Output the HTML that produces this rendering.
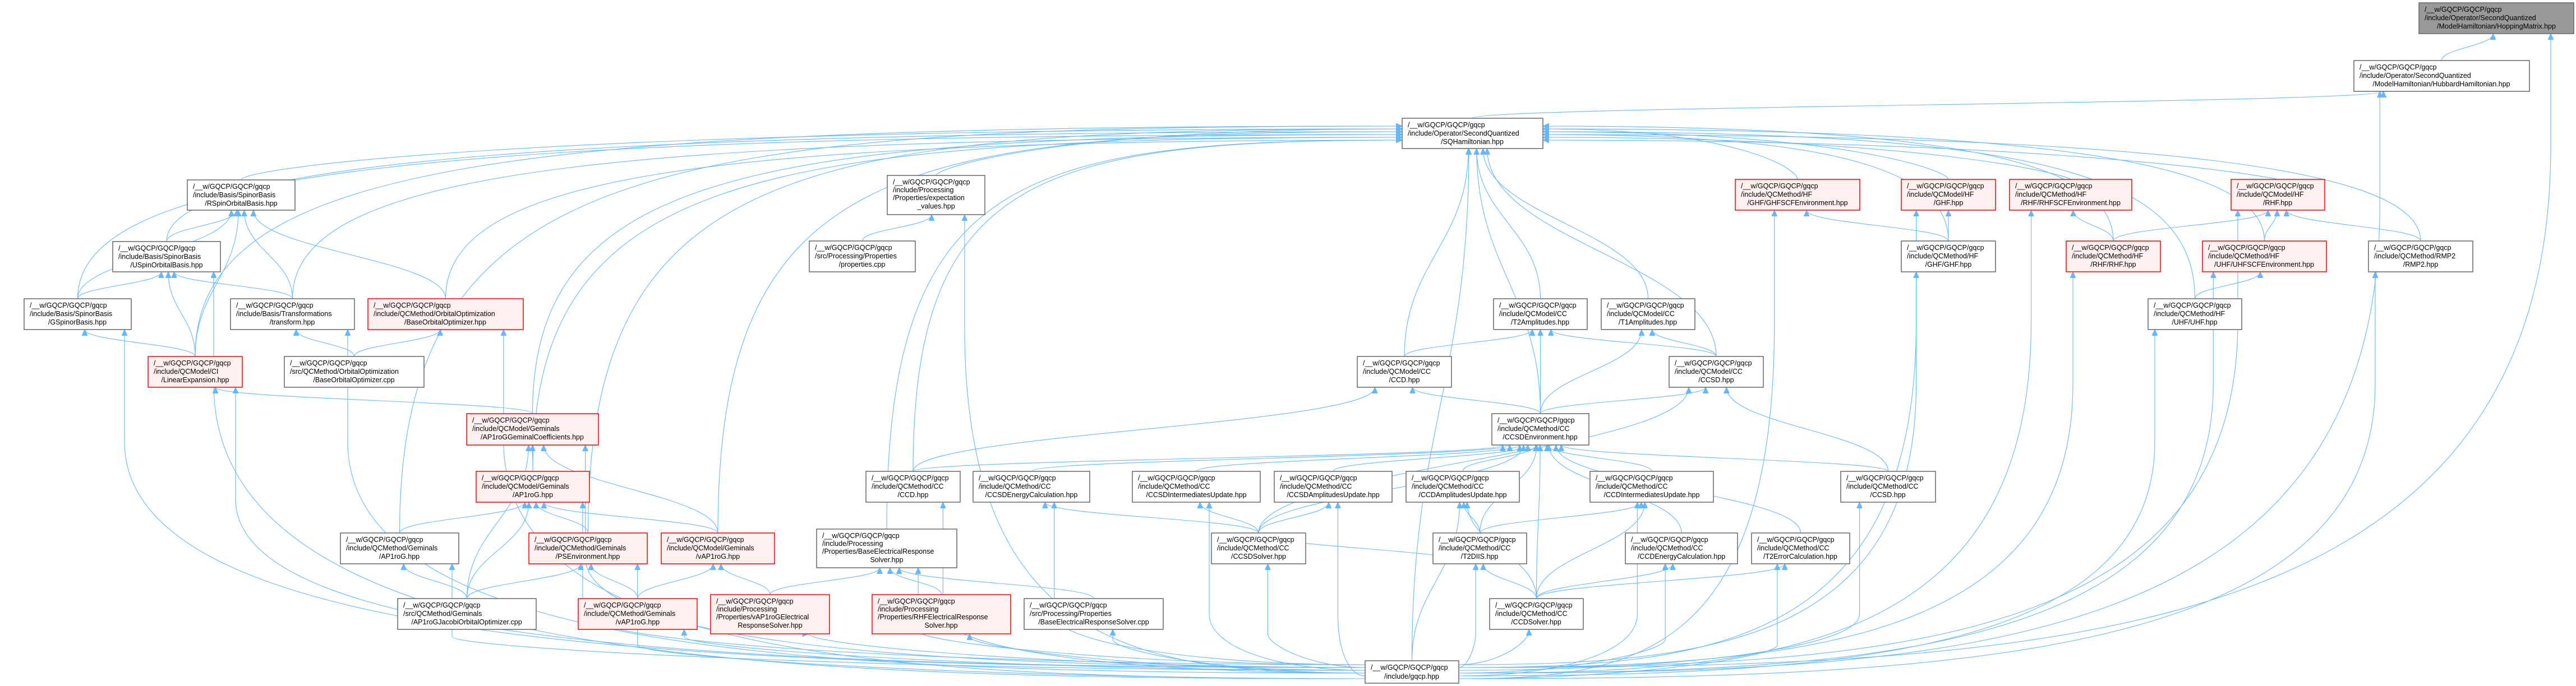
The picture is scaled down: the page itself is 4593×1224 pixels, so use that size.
<!DOCTYPE html>
<html><head><meta charset="utf-8">
<style>
html,body{margin:0;padding:0;background:#fff;}
svg{display:block;}
text{font-family:"Liberation Sans",Arial,sans-serif;font-size:12.5px;fill:#000;}
.n{fill:#fff;stroke:#666;stroke-width:1.5;}
.r{fill:#fff0f0;stroke:#f00;stroke-width:1.5;}
.g{fill:#999;stroke:#666;stroke-width:1.5;}
.m{text-anchor:middle;}
#edges path{fill:none;stroke:#63b8ff;stroke-width:1.1;}
</style></head>
<body>
<svg id="svg" width="4593" height="1224" viewBox="0 0 4593 1224" xmlns="http://www.w3.org/2000/svg">
<defs><marker id="ah" markerUnits="userSpaceOnUse" markerWidth="12" markerHeight="10" refX="11" refY="5" orient="auto"><path d="M0,0 L11,5 L0,10 z" fill="#63b8ff" stroke="#63b8ff"/></marker></defs>
<g id="edges"></g>
<g id="nodes">
<rect class="g" x="4313" y="5" width="276" height="55"/><text x="4323" y="21">/__w/GQCP/GQCP/gqcp</text><text x="4323" y="36">/include/Operator/SecondQuantized</text><text class="m" x="4451" y="51">/ModelHamiltonian/HoppingMatrix.hpp</text>
<rect class="n" x="4197" y="108" width="313" height="55"/><text x="4207" y="124">/__w/GQCP/GQCP/gqcp</text><text x="4207" y="139">/include/Operator/SecondQuantized</text><text class="m" x="4353" y="154">/ModelHamiltonian/HubbardHamiltonian.hpp</text>
<rect class="n" x="2500" y="211" width="251" height="54"/><text x="2510" y="227">/__w/GQCP/GQCP/gqcp</text><text x="2510" y="242">/include/Operator/SecondQuantized</text><text class="m" x="2625" y="257">/SQHamiltonian.hpp</text>
<rect class="n" x="334" y="321" width="192" height="54"/><text x="344" y="337">/__w/GQCP/GQCP/gqcp</text><text x="344" y="352">/include/Basis/SpinorBasis</text><text class="m" x="430" y="367">/RSpinOrbitalBasis.hpp</text>
<rect class="n" x="1582" y="313" width="174" height="70"/><text x="1592" y="329">/__w/GQCP/GQCP/gqcp</text><text x="1592" y="343">/include/Processing</text><text x="1592" y="357">/Properties/expectation</text><text class="m" x="1669" y="372">_values.hpp</text>
<rect class="r" x="3094" y="320" width="222" height="55"/><text x="3104" y="336">/__w/GQCP/GQCP/gqcp</text><text x="3104" y="351">/include/QCMethod/HF</text><text class="m" x="3205" y="366">/GHF/GHFSCFEnvironment.hpp</text>
<rect class="r" x="3390" y="320" width="168" height="55"/><text x="3400" y="336">/__w/GQCP/GQCP/gqcp</text><text x="3400" y="351">/include/QCModel/HF</text><text class="m" x="3474" y="366">/GHF.hpp</text>
<rect class="r" x="3583" y="320" width="218" height="55"/><text x="3593" y="336">/__w/GQCP/GQCP/gqcp</text><text x="3593" y="351">/include/QCMethod/HF</text><text class="m" x="3692" y="366">/RHF/RHFSCFEnvironment.hpp</text>
<rect class="r" x="3978" y="320" width="167" height="55"/><text x="3988" y="336">/__w/GQCP/GQCP/gqcp</text><text x="3988" y="351">/include/QCModel/HF</text><text class="m" x="4061" y="366">/RHF.hpp</text>
<rect class="n" x="201" y="431" width="192" height="54"/><text x="211" y="447">/__w/GQCP/GQCP/gqcp</text><text x="211" y="462">/include/Basis/SpinorBasis</text><text class="m" x="297" y="477">/USpinOrbitalBasis.hpp</text>
<rect class="n" x="1443" y="430" width="189" height="55"/><text x="1453" y="446">/__w/GQCP/GQCP/gqcp</text><text x="1453" y="461">/src/Processing/Properties</text><text class="m" x="1537" y="476">/properties.cpp</text>
<rect class="n" x="3390" y="430" width="168" height="55"/><text x="3400" y="446">/__w/GQCP/GQCP/gqcp</text><text x="3400" y="461">/include/QCMethod/HF</text><text class="m" x="3474" y="476">/GHF/GHF.hpp</text>
<rect class="r" x="3684" y="430" width="168" height="55"/><text x="3694" y="446">/__w/GQCP/GQCP/gqcp</text><text x="3694" y="461">/include/QCMethod/HF</text><text class="m" x="3768" y="476">/RHF/RHF.hpp</text>
<rect class="r" x="3927" y="430" width="221" height="55"/><text x="3937" y="446">/__w/GQCP/GQCP/gqcp</text><text x="3937" y="461">/include/QCMethod/HF</text><text class="m" x="4037" y="476">/UHF/UHFSCFEnvironment.hpp</text>
<rect class="n" x="4223" y="430" width="186" height="55"/><text x="4233" y="446">/__w/GQCP/GQCP/gqcp</text><text x="4233" y="461">/include/QCMethod/RMP2</text><text class="m" x="4316" y="476">/RMP2.hpp</text>
<rect class="n" x="43" y="533" width="191" height="55"/><text x="53" y="549">/__w/GQCP/GQCP/gqcp</text><text x="53" y="564">/include/Basis/SpinorBasis</text><text class="m" x="138" y="579">/GSpinorBasis.hpp</text>
<rect class="n" x="411" y="533" width="221" height="55"/><text x="421" y="549">/__w/GQCP/GQCP/gqcp</text><text x="421" y="564">/include/Basis/Transformations</text><text class="m" x="521" y="579">/transform.hpp</text>
<rect class="r" x="656" y="533" width="277" height="55"/><text x="666" y="549">/__w/GQCP/GQCP/gqcp</text><text x="666" y="564">/include/QCMethod/OrbitalOptimization</text><text class="m" x="794" y="579">/BaseOrbitalOptimizer.hpp</text>
<rect class="n" x="2663" y="533" width="167" height="55"/><text x="2673" y="549">/__w/GQCP/GQCP/gqcp</text><text x="2673" y="564">/include/QCModel/CC</text><text class="m" x="2746" y="579">/T2Amplitudes.hpp</text>
<rect class="n" x="2855" y="533" width="167" height="55"/><text x="2865" y="549">/__w/GQCP/GQCP/gqcp</text><text x="2865" y="564">/include/QCModel/CC</text><text class="m" x="2938" y="579">/T1Amplitudes.hpp</text>
<rect class="n" x="3830" y="533" width="167" height="55"/><text x="3840" y="549">/__w/GQCP/GQCP/gqcp</text><text x="3840" y="564">/include/QCMethod/HF</text><text class="m" x="3913" y="579">/UHF/UHF.hpp</text>
<rect class="r" x="264" y="636" width="168" height="55"/><text x="274" y="652">/__w/GQCP/GQCP/gqcp</text><text x="274" y="667">/include/QCModel/CI</text><text class="m" x="348" y="682">/LinearExpansion.hpp</text>
<rect class="n" x="507" y="636" width="249" height="55"/><text x="517" y="652">/__w/GQCP/GQCP/gqcp</text><text x="517" y="667">/src/QCMethod/OrbitalOptimization</text><text class="m" x="631" y="682">/BaseOrbitalOptimizer.cpp</text>
<rect class="n" x="2420" y="636" width="168" height="55"/><text x="2430" y="652">/__w/GQCP/GQCP/gqcp</text><text x="2430" y="667">/include/QCModel/CC</text><text class="m" x="2504" y="682">/CCD.hpp</text>
<rect class="n" x="2976" y="636" width="168" height="55"/><text x="2986" y="652">/__w/GQCP/GQCP/gqcp</text><text x="2986" y="667">/include/QCModel/CC</text><text class="m" x="3060" y="682">/CCSD.hpp</text>
<rect class="r" x="832" y="738" width="235" height="56"/><text x="842" y="754">/__w/GQCP/GQCP/gqcp</text><text x="842" y="769">/include/QCModel/Geminals</text><text class="m" x="949" y="784">/AP1roGGeminalCoefficients.hpp</text>
<rect class="n" x="2660" y="738" width="173" height="56"/><text x="2670" y="754">/__w/GQCP/GQCP/gqcp</text><text x="2670" y="769">/include/QCMethod/CC</text><text class="m" x="2746" y="784">/CCSDEnvironment.hpp</text>
<rect class="r" x="849" y="841" width="202" height="55"/><text x="859" y="857">/__w/GQCP/GQCP/gqcp</text><text x="859" y="872">/include/QCModel/Geminals</text><text class="m" x="950" y="887">/AP1roG.hpp</text>
<rect class="n" x="1544" y="841" width="168" height="55"/><text x="1554" y="857">/__w/GQCP/GQCP/gqcp</text><text x="1554" y="872">/include/QCMethod/CC</text><text class="m" x="1628" y="887">/CCD.hpp</text>
<rect class="n" x="1735" y="841" width="208" height="55"/><text x="1745" y="857">/__w/GQCP/GQCP/gqcp</text><text x="1745" y="872">/include/QCMethod/CC</text><text class="m" x="1839" y="887">/CCSDEnergyCalculation.hpp</text>
<rect class="n" x="2019" y="841" width="228" height="55"/><text x="2029" y="857">/__w/GQCP/GQCP/gqcp</text><text x="2029" y="872">/include/QCMethod/CC</text><text class="m" x="2133" y="887">/CCSDIntermediatesUpdate.hpp</text>
<rect class="n" x="2272" y="841" width="210" height="55"/><text x="2282" y="857">/__w/GQCP/GQCP/gqcp</text><text x="2282" y="872">/include/QCMethod/CC</text><text class="m" x="2377" y="887">/CCSDAmplitudesUpdate.hpp</text>
<rect class="n" x="2507" y="841" width="202" height="55"/><text x="2517" y="857">/__w/GQCP/GQCP/gqcp</text><text x="2517" y="872">/include/QCMethod/CC</text><text class="m" x="2608" y="887">/CCDAmplitudesUpdate.hpp</text>
<rect class="n" x="2835" y="841" width="220" height="55"/><text x="2845" y="857">/__w/GQCP/GQCP/gqcp</text><text x="2845" y="872">/include/QCMethod/CC</text><text class="m" x="2945" y="887">/CCDIntermediatesUpdate.hpp</text>
<rect class="n" x="3282" y="841" width="169" height="55"/><text x="3292" y="857">/__w/GQCP/GQCP/gqcp</text><text x="3292" y="872">/include/QCMethod/CC</text><text class="m" x="3366" y="887">/CCSD.hpp</text>
<rect class="n" x="607" y="951" width="211" height="55"/><text x="617" y="967">/__w/GQCP/GQCP/gqcp</text><text x="617" y="982">/include/QCMethod/Geminals</text><text class="m" x="712" y="997">/AP1roG.hpp</text>
<rect class="r" x="943" y="951" width="211" height="55"/><text x="953" y="967">/__w/GQCP/GQCP/gqcp</text><text x="953" y="982">/include/QCMethod/Geminals</text><text class="m" x="1048" y="997">/PSEnvironment.hpp</text>
<rect class="r" x="1179" y="951" width="202" height="55"/><text x="1189" y="967">/__w/GQCP/GQCP/gqcp</text><text x="1189" y="982">/include/QCModel/Geminals</text><text class="m" x="1280" y="997">/vAP1roG.hpp</text>
<rect class="n" x="1456" y="944" width="250" height="69"/><text x="1466" y="960">/__w/GQCP/GQCP/gqcp</text><text x="1466" y="974">/include/Processing</text><text x="1466" y="988">/Properties/BaseElectricalResponse</text><text class="m" x="1581" y="1003">Solver.hpp</text>
<rect class="n" x="2160" y="951" width="168" height="55"/><text x="2170" y="967">/__w/GQCP/GQCP/gqcp</text><text x="2170" y="982">/include/QCMethod/CC</text><text class="m" x="2244" y="997">/CCSDSolver.hpp</text>
<rect class="n" x="2555" y="951" width="167" height="55"/><text x="2565" y="967">/__w/GQCP/GQCP/gqcp</text><text x="2565" y="982">/include/QCMethod/CC</text><text class="m" x="2638" y="997">/T2DIIS.hpp</text>
<rect class="n" x="2898" y="951" width="200" height="55"/><text x="2908" y="967">/__w/GQCP/GQCP/gqcp</text><text x="2908" y="982">/include/QCMethod/CC</text><text class="m" x="2998" y="997">/CCDEnergyCalculation.hpp</text>
<rect class="n" x="3123" y="951" width="175" height="55"/><text x="3133" y="967">/__w/GQCP/GQCP/gqcp</text><text x="3133" y="982">/include/QCMethod/CC</text><text class="m" x="3210" y="997">/T2ErrorCalculation.hpp</text>
<rect class="n" x="709" y="1068" width="247" height="55"/><text x="719" y="1084">/__w/GQCP/GQCP/gqcp</text><text x="719" y="1099">/src/QCMethod/Geminals</text><text class="m" x="832" y="1114">/AP1roGJacobiOrbitalOptimizer.cpp</text>
<rect class="r" x="1031" y="1068" width="212" height="55"/><text x="1041" y="1084">/__w/GQCP/GQCP/gqcp</text><text x="1041" y="1099">/include/QCMethod/Geminals</text><text class="m" x="1137" y="1114">/vAP1roG.hpp</text>
<rect class="r" x="1267" y="1061" width="212" height="70"/><text x="1277" y="1077">/__w/GQCP/GQCP/gqcp</text><text x="1277" y="1091">/include/Processing</text><text x="1277" y="1105">/Properties/vAP1roGElectrical</text><text class="m" x="1373" y="1120">ResponseSolver.hpp</text>
<rect class="r" x="1555" y="1061" width="247" height="70"/><text x="1565" y="1077">/__w/GQCP/GQCP/gqcp</text><text x="1565" y="1091">/include/Processing</text><text x="1565" y="1105">/Properties/RHFElectricalResponse</text><text class="m" x="1678" y="1120">Solver.hpp</text>
<rect class="n" x="1826" y="1068" width="248" height="55"/><text x="1836" y="1084">/__w/GQCP/GQCP/gqcp</text><text x="1836" y="1099">/src/Processing/Properties</text><text class="m" x="1950" y="1114">/BaseElectricalResponseSolver.cpp</text>
<rect class="n" x="2656" y="1068" width="167" height="55"/><text x="2666" y="1084">/__w/GQCP/GQCP/gqcp</text><text x="2666" y="1099">/include/QCMethod/CC</text><text class="m" x="2739" y="1114">/CCDSolver.hpp</text>
<rect class="n" x="2434" y="1179" width="167" height="40"/><text x="2444" y="1195">/__w/GQCP/GQCP/gqcp</text><text class="m" x="2517" y="1211">/include/gqcp.hpp</text>
</g>
</svg>
<script>
var N={hop:[4313,5,4589,60],hub:[4197,108,4510,163],sqh:[2500,211,2751,265],rsp:[334,321,526,375],exp:[1582,313,1756,383],
ghfscf:[3094,320,3316,375],ghfm:[3390,320,3558,375],rhfscf:[3583,320,3801,375],rhfm:[3978,320,4145,375],
usp:[201,431,393,485],props:[1443,430,1632,485],ghf:[3390,430,3558,485],rhf:[3684,430,3852,485],uhfscf:[3927,430,4148,485],rmp2:[4223,430,4409,485],
gsp:[43,533,234,588],trf:[411,533,632,588],boo:[656,533,933,588],t2a:[2663,533,2830,588],t1a:[2855,533,3022,588],uhf:[3830,533,3997,588],
lin:[264,636,432,691],booc:[507,636,756,691],ccdm:[2420,636,2588,691],ccsdm:[2976,636,3144,691],
gem:[832,738,1067,794],env:[2660,738,2833,794],
ap1m:[849,841,1051,896],ccd:[1544,841,1712,896],ccsdE:[1735,841,1943,896],ccsdI:[2019,841,2247,896],ccsdA:[2272,841,2482,896],ccdA:[2507,841,2709,896],ccdI:[2835,841,3055,896],ccsd:[3282,841,3451,896],
ap1:[607,951,818,1006],pse:[943,951,1154,1006],vapm:[1179,951,1381,1006],bers:[1456,944,1706,1013],ccsdS:[2160,951,2328,1006],t2d:[2555,951,2722,1006],ccdE:[2898,951,3098,1006],t2e:[3123,951,3298,1006],
jac:[709,1068,956,1123],vap:[1031,1068,1243,1123],vers:[1267,1061,1479,1131],rers:[1555,1061,1802,1131],bersc:[1826,1068,2074,1123],ccdS:[2656,1068,2823,1123],gqcp:[2434,1179,2601,1219]};
var E="hub hop,gqcp hop,sqh hub,gqcp hub,"+
"rsp sqh,usp sqh,gsp sqh,trf sqh,boo sqh,lin sqh,exp sqh,ccdm sqh,t2a sqh,t1a sqh,ccsdm sqh,env sqh,ghfscf sqh,ghfm sqh,ghf sqh,rhfscf sqh,rhfm sqh,rhf sqh,uhfscf sqh,uhf sqh,rmp2 sqh,gqcp sqh,bers sqh,ap1 sqh,pse sqh,vapm sqh,gem sqh,ap1m sqh,ccd sqh,"+
"usp rsp,gsp rsp,trf rsp,boo rsp,lin rsp,gsp usp,trf usp,lin usp,gqcp usp,lin gsp,gqcp gsp,booc trf,gqcp trf,booc boo,gqcp boo,gem lin,gqcp lin,props exp,gqcp exp,"+
"ap1m gem,vapm gem,jac gem,gqcp gem,ap1 ap1m,pse ap1m,vapm ap1m,jac ap1m,gqcp ap1m,jac ap1,gqcp ap1,jac pse,vap pse,gqcp pse,vap vapm,vers vapm,gqcp vap,"+
"vers bers,rers bers,bersc bers,gqcp bers,gqcp vers,gqcp rers,gqcp bersc,ghf ghfscf,gqcp ghfscf,ghf ghfm,gqcp ghfm,rhf rhfscf,gqcp rhfscf,rhf rhfm,uhfscf rhfm,rmp2 rhfm,gqcp rhfm,uhf uhfscf,gqcp uhfscf,gqcp uhf,gqcp rmp2,gqcp ghf,gqcp rhf,"+
"ccdm t2a,env t2a,ccsdm t2a,ccsdm t1a,env t1a,ccd ccdm,env ccdm,env ccsdm,ccsd ccsdm,"+
"ccd env,ccsdE env,ccsdI env,ccsdA env,ccdA env,t2d env,ccdI env,ccdE env,t2e env,ccsd env,ccsdS env,ccdS env,"+
"ccsdS ccsdE,gqcp ccsdE,ccsdS ccsdI,gqcp ccsdI,ccsdS ccsdA,gqcp ccsdA,t2d ccdA,ccdS ccdA,gqcp ccdA,t2d ccdI,ccdS ccdI,gqcp ccdI,ccdS t2d,ccsdS t2d,gqcp t2d,ccdS ccdE,gqcp ccdE,ccdS t2e,gqcp t2e,gqcp ccdS,gqcp ccsdS,gqcp ccsd,gqcp ccd,ccsdS ccsdm";
var g=document.getElementById('edges'),ns='http://www.w3.org/2000/svg',cnt={};
E.split(',').forEach(function(p,i){
 var a=p.split(' '),s=N[a[0]],t=N[a[1]];
 var scx=(s[0]+s[2])/2,tcx=(t[0]+t[2])/2,hw=(t[2]-t[0])/2-12,d;
 var k=cnt[a[1]]=(cnt[a[1]]||0)+1;
 var ex=tcx+Math.max(-hw,Math.min(hw,(scx-tcx)*0.06));
 if(a[1]=='hop'&&a[0]=='gqcp')ex=4548;
 if(a[0]=='gqcp'&&Math.abs(tcx-scx)>120){
  var sx=tcx<scx?s[0]:s[2],sy=1186+(i%6)*5;
  var by=Math.min(sy-60,t[3]+200);
  d='M'+sx+','+sy+' C'+(ex+(sx-ex)*0.45)+','+sy+' '+ex+','+(sy-40)+' '+ex+','+by+' L'+ex+','+t[3];
 } else if(a[1]=='sqh'&&a[0]!='gqcp'&&Math.abs(scx-tcx)>500){
  var side=scx<tcx?t[0]:t[2],ey=t[1]+14+(k%6)*5;
  d='M'+scx+','+s[1]+' C'+scx+','+(ey+70)+' '+(scx+(side-scx)*0.25)+','+ey+' '+side+','+ey;
 } else {
  var sy2=s[1],dy=sy2-t[3];
  d='M'+scx+','+sy2+' C'+scx+','+(sy2-dy*0.45)+' '+ex+','+(t[3]+dy*0.45)+' '+ex+','+t[3];
 }
 var el=document.createElementNS(ns,'path');el.setAttribute('d',d);el.setAttribute('marker-end','url(#ah)');g.appendChild(el);
});
</script>
</body></html>
